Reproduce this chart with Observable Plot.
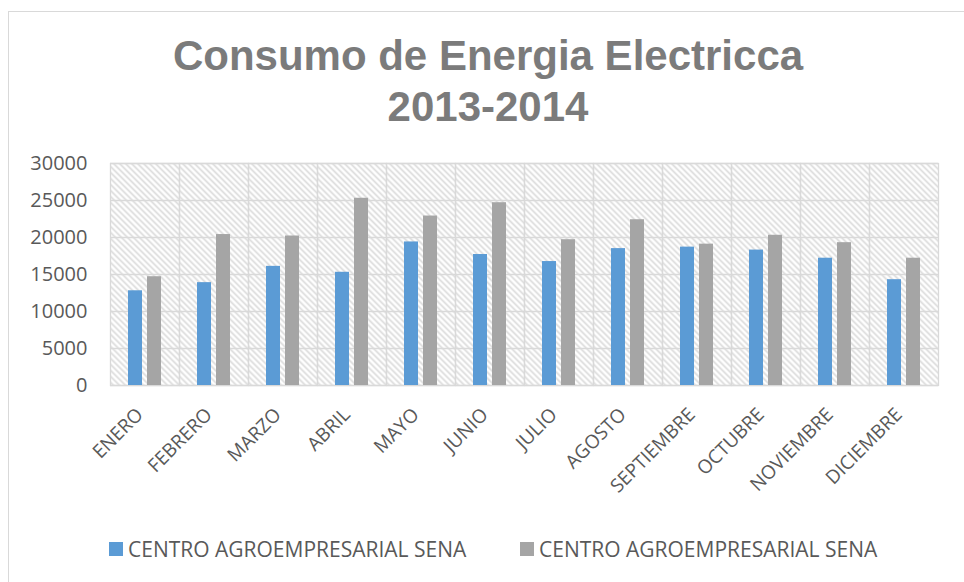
<!DOCTYPE html>
<html>
<head>
<meta charset="utf-8">
<script src="https://cdn.jsdelivr.net/npm/d3@7"></script>
<script src="https://cdn.jsdelivr.net/npm/@observablehq/plot@0.6"></script>
<style>
  html, body { margin: 0; padding: 0; background: #fff; }
  #wrap { position: relative; width: 964px; height: 582px; overflow: hidden; background: #fff; }
  #border { position: absolute; left: 8px; top: 11px; width: 1100px; height: 700px; border: 1.3px solid #d9d9d9; box-sizing: border-box; }
  #title { position: absolute; left: 0; width: 976px; top: 30px; text-align: center;
           font-family: "Liberation Sans", Arial, sans-serif; font-weight: bold; font-size: 42px;
           line-height: 51px; color: #7b7b7b; }
  #chart { position: absolute; left: 0; top: 0; }
  .leg { position: absolute; top: 535px; font-family: "Open Sans", sans-serif; font-size: 21px; color: #595959;
         display: flex; align-items: center; white-space: nowrap; }
  .sw { width: 14px; height: 14px; margin-right: 5px; display: inline-block; }
</style>
</head>
<body>
<div id="wrap">
  <div id="border"></div>
  <div id="chart"></div>
  <div id="title">Consumo de Energia Electricca<br>2013-2014</div>
  <div id="legend"></div>
</div>
<script>
const months = ["ENERO","FEBRERO","MARZO","ABRIL","MAYO","JUNIO","JULIO","AGOSTO","SEPTIEMBRE","OCTUBRE","NOVIEMBRE","DICIEMBRE"];
const seriesNames = ["CENTRO AGROEMPRESARIAL SENA", "CENTRO AGROEMPRESARIAL SENA"];
const seriesKeys = ["s1", "s2"];
const seriesColors = ["#5b9bd5", "#a5a5a5"];
const serie1 = [12800, 13900, 16100, 15300, 19400, 17700, 16750, 18500, 18700, 18300, 17200, 14300];
const serie2 = [14700, 20400, 20200, 25300, 22900, 24700, 19700, 22400, 19100, 20300, 19300, 17200];
const yTicks = [0, 5000, 10000, 15000, 20000, 25000, 30000];

const rows = [];
months.forEach((m, i) => {
  rows.push({month: m, key: seriesKeys[0], value: serie1[i]});
  rows.push({month: m, key: seriesKeys[1], value: serie2[i]});
});

const grid = "#d9d9d9";
const plot = Plot.plot({
  width: 964,
  height: 582,
  marginLeft: 109,
  marginRight: 25,
  marginTop: 163,
  marginBottom: 197,
  style: {fontFamily: "'Open Sans', sans-serif", background: "transparent"},
  fx: {domain: months, padding: 0, axis: null},
  x: {domain: seriesKeys, paddingInner: 0.275, paddingOuter: 0.93, axis: null},
  y: {domain: [0, 30000], ticks: yTicks, label: null},
  color: {domain: seriesKeys, range: seriesColors},
  marks: [
    Plot.frame({fill: "url(#hatch)", stroke: null}),
    Plot.gridY(yTicks, {stroke: grid, strokeOpacity: 1, strokeWidth: 1.3}),
    Plot.frame({stroke: grid, strokeWidth: 1.3, strokeOpacity: 1}),
    Plot.barY(rows, {fx: "month", x: "key", y: "value", fill: "key"}),
    Plot.axisY(yTicks, {tickSize: 0, tickPadding: 23, fontSize: 20, fill: "#595959", label: null, tickFormat: d => String(d)}),
    Plot.text(months, {fx: d => d, text: d => d, frameAnchor: "bottom", rotate: -45, textAnchor: "end",
      lineAnchor: "middle", dy: 26, dx: -5, fontSize: 19, fill: "#595959"})
  ]
});

const ns = "http://www.w3.org/2000/svg";
const defs = document.createElementNS(ns, "defs");
defs.innerHTML = `<pattern id="hatch" patternUnits="userSpaceOnUse" width="4.24" height="4.24" patternTransform="rotate(-45)">
  <rect width="4.24" height="4.24" fill="#ffffff"/>
  <line x1="2.12" y1="0" x2="2.12" y2="4.24" stroke="#dedede" stroke-width="1.8"/>
</pattern>`;
plot.insertBefore(defs, plot.firstChild);
document.getElementById("chart").appendChild(plot);

const legend = document.getElementById("legend");
const legLeft = [109, 520];
seriesNames.forEach((name, i) => {
  const d = document.createElement("div");
  d.className = "leg";
  d.style.left = legLeft[i] + "px";
  d.innerHTML = `<span class="sw" style="background:${seriesColors[i]}"></span>${name}`;
  legend.appendChild(d);
});
</script>
</body>
</html>
